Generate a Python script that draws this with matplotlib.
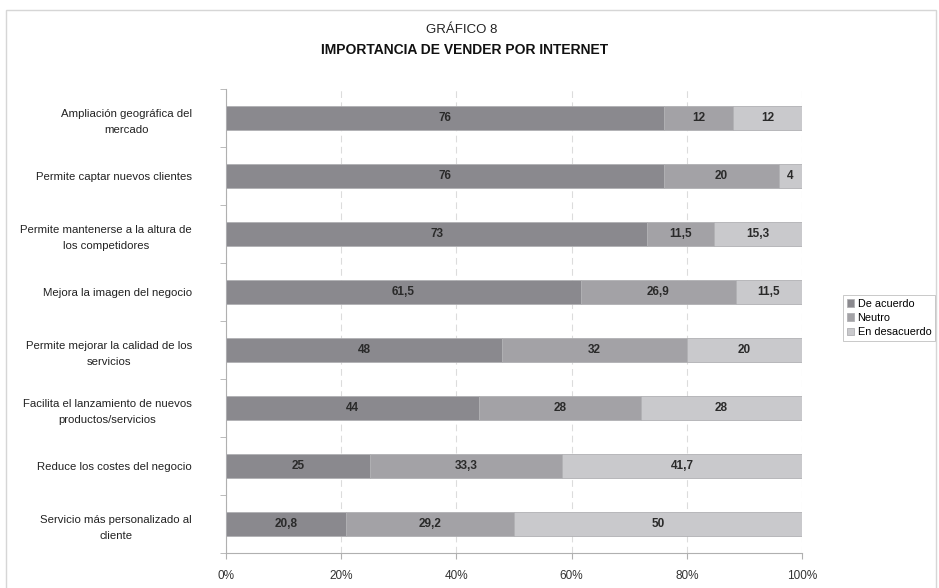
import matplotlib

matplotlib.use("Agg")

import matplotlib.pyplot as plt
import numpy as np
from matplotlib.patches import Rectangle

plt.rcParams["font.family"] = ["Liberation Sans", "DejaVu Sans"]

categories = [
    "Ampliación geográfica del\nmercado",
    "Permite captar nuevos clientes",
    "Permite mantenerse a la altura de\nlos competidores",
    "Mejora la imagen del negocio",
    "Permite mejorar la calidad de los\nservicios",
    "Facilita el lanzamiento de nuevos\nproductos/servicios",
    "Reduce los costes del negocio",
    "Servicio más personalizado al\ncliente",
]
de_acuerdo = [76, 76, 73, 61.5, 48, 44, 25, 20.8]
neutro = [12, 20, 11.5, 26.9, 32, 28, 33.3, 29.2]
desacuerdo = [12, 4, 15.3, 11.5, 20, 28, 41.7, 50]
series_names = ["De acuerdo", "Neutro", "En desacuerdo"]
colors = ["#8a898e", "#a3a2a6", "#c9c9cc"]

fig = plt.figure(figsize=(9.39, 5.88), dpi=100)
fig.patch.set_facecolor("white")
fig.patches.append(Rectangle((6 / 939, -0.05), 0.99, 1 - 10 / 588 + 0.05, transform=fig.transFigure,
                             fill=False, edgecolor="#d6d6d6", linewidth=1.0))

ax = fig.add_axes([226 / 939, 1 - 553 / 588, 576 / 939, 464 / 588])

y = np.arange(len(categories))
series = [de_acuerdo, neutro, desacuerdo]
totals = [a + b + c for a, b, c in zip(de_acuerdo, neutro, desacuerdo)]
left = np.zeros(len(categories))
for values, name, color in zip(series, series_names, colors):
    pct = np.array(values) / np.array(totals) * 100
    ax.barh(y, pct, left=left, height=0.42, color=color, edgecolor="#b0b0b3",
            linewidth=0.6, label=name, zorder=3)
    for yi, l, w, v in zip(y, left, pct, values):
        text = f"{v:g}".replace(".", ",")
        ax.text(l + w / 2, yi, text, ha="center", va="center", fontsize=8.5,
                fontweight="bold", color="#2a2a2a", zorder=4)
    left += pct

ax.set_xlim(0, 100)
ax.set_ylim(len(categories) - 0.5, -0.5)
ax.set_xticks(np.arange(0, 101, 20))
ax.set_xticklabels([f"{t}%" for t in range(0, 101, 20)], fontsize=8.5, color="#333333")
ax.xaxis.grid(True, linestyle=(0, (6, 4)), color="#dcdcdc", linewidth=0.8, zorder=0)
ax.set_yticks(y)
ax.set_yticklabels(categories, fontsize=8.2, color="#222222", linespacing=1.75)
ax.set_yticks(np.arange(-0.5, len(categories), 1), minor=True)
ax.tick_params(axis="y", which="major", length=0, pad=24.5)
ax.tick_params(axis="y", which="minor", length=4, color="#b0b0b0")
ax.tick_params(axis="x", length=4, color="#b0b0b0", pad=8)
for lbl in ax.get_yticklabels():
    lbl.set_horizontalalignment("right")
    lbl.set_multialignment("center")
ax.spines["top"].set_visible(False)
ax.spines["right"].set_visible(False)
ax.spines["left"].set_color("#b0b0b0")
ax.spines["bottom"].set_color("#b0b0b0")

fig.text(462 / 939, 1 - 30 / 588, "GRÁFICO 8", ha="center", va="center", fontsize=9.5, color="#222222")
fig.text(465 / 939, 1 - 50 / 588, "IMPORTANCIA DE VENDER POR INTERNET", ha="center", va="center",
         fontsize=10, fontweight="bold", color="#111111")

leg = fig.legend(loc="upper left", bbox_to_anchor=(838 / 939, 1 - 290 / 588), fontsize=7.8,
                 frameon=True, fancybox=False, edgecolor="#b0b0b0", handlelength=0.7,
                 handleheight=0.7, handletextpad=0.3, borderpad=0.3, labelspacing=0.4)
leg.get_frame().set_linewidth(0.6)

fig.savefig("out.png", dpi=100)
